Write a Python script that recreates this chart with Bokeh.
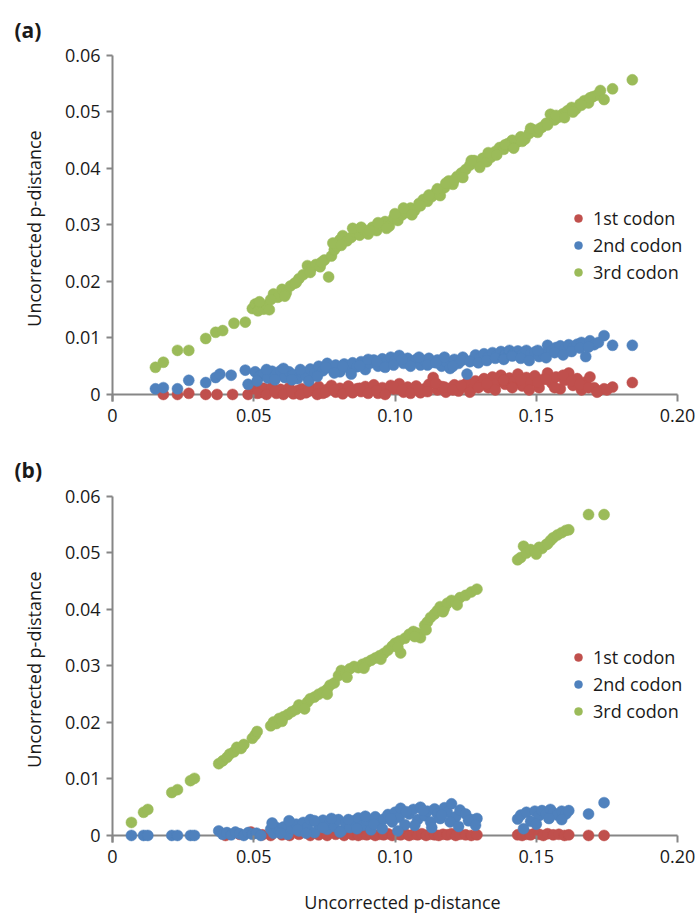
from bokeh.plotting import figure
from bokeh.models import FixedTicker, Legend, LegendItem
from bokeh.layouts import column
from bokeh.embed import file_html
from bokeh.resources import INLINE

FONT = "Open Sans"
RED, BLUE, GREEN = "#C0504D", "#4F81BD", "#9BBB59"
AXC = "#868686"
TXT = "#1a1a1a"

series_names = ["1st codon", "2nd codon", "3rd codon"]
panel_tags = ["(a)", "(b)"]
axis_title = "Uncorrected p-distance"
x_ticks = [0, 0.05, 0.10, 0.15, 0.20]
x_tick_labels = ["0", "0.05", "0.10", "0.15", "0.20"]
y_ticks = [0, 0.01, 0.02, 0.03, 0.04, 0.05, 0.06]
y_tick_labels = ["0", "0.01", "0.02", "0.03", "0.04", "0.05", "0.06"]

# ---------------- panel (a) ----------------
a_green_x = [0.0152, 0.0180, 0.0230, 0.0270, 0.0330, 0.0365, 0.0390, 0.0430, 0.0470, 0.0495,
             0.0505, 0.0515, 0.0525, 0.0535, 0.0545, 0.0555, 0.0570, 0.0585, 0.0600, 0.0615,
             0.0630, 0.0645, 0.0660, 0.0675, 0.0690, 0.0705, 0.0720, 0.0735, 0.0750, 0.0765,
             0.0775, 0.0785, 0.0795, 0.0805, 0.0815, 0.0830, 0.0845, 0.0860, 0.0875, 0.0890,
             0.0905, 0.0920, 0.0935, 0.0950, 0.0965, 0.0980, 0.0995, 0.1010, 0.1025, 0.1040,
             0.1055, 0.1070, 0.1085, 0.1100, 0.1115, 0.1130, 0.1145, 0.1160, 0.1175, 0.1190,
             0.1205, 0.1220, 0.1235, 0.1250, 0.1265, 0.1280, 0.1295, 0.1310, 0.1325, 0.1340,
             0.1355, 0.1370, 0.1385, 0.1400, 0.1415, 0.1430, 0.1445, 0.1460, 0.1475, 0.1490,
             0.1505, 0.1520, 0.1535, 0.1550, 0.1565, 0.1580, 0.1595, 0.1610, 0.1625, 0.1640,
             0.1655, 0.1670, 0.1685, 0.1700, 0.1715, 0.1727, 0.1740, 0.1770, 0.1840,
             0.0520, 0.0560, 0.0610, 0.0650, 0.0700, 0.0740, 0.0780, 0.0810, 0.0850, 0.0880,
             0.0910, 0.0940, 0.0970, 0.1000, 0.1030, 0.1060, 0.1090, 0.1120, 0.1150, 0.1180,
             0.1210, 0.1240, 0.1270, 0.1300, 0.1330, 0.1360, 0.1390, 0.1420, 0.1450, 0.1480,
             0.1510, 0.1540, 0.1570, 0.1600, 0.1630, 0.1660, 0.1690]
a_green_y = [0.0048, 0.0057, 0.0078, 0.0078, 0.0099, 0.0110, 0.0113, 0.0126, 0.0128, 0.0152,
             0.0160, 0.0148, 0.0157, 0.0151, 0.0158, 0.0150, 0.0178, 0.0172, 0.0186, 0.0180,
             0.0192, 0.0197, 0.0205, 0.0212, 0.0228, 0.0224, 0.0230, 0.0226, 0.0238, 0.0208,
             0.0245, 0.0256, 0.0262, 0.0274, 0.0281, 0.0272, 0.0278, 0.0287, 0.0282, 0.0291,
             0.0284, 0.0296, 0.0290, 0.0300, 0.0306, 0.0298, 0.0312, 0.0308, 0.0318, 0.0322,
             0.0330, 0.0326, 0.0338, 0.0345, 0.0342, 0.0350, 0.0358, 0.0352, 0.0366, 0.0378,
             0.0372, 0.0386, 0.0392, 0.0398, 0.0406, 0.0414, 0.0409, 0.0418, 0.0412, 0.0420,
             0.0430, 0.0437, 0.0434, 0.0444, 0.0450, 0.0446, 0.0456, 0.0452, 0.0462, 0.0468,
             0.0464, 0.0473, 0.0480, 0.0496, 0.0486, 0.0491, 0.0497, 0.0502, 0.0508, 0.0505,
             0.0514, 0.0520, 0.0516, 0.0527, 0.0530, 0.0538, 0.0522, 0.0541, 0.0557,
             0.0164, 0.0168, 0.0174, 0.0198, 0.0216, 0.0234, 0.0268, 0.0264, 0.0294, 0.0296,
             0.0290, 0.0304, 0.0294, 0.0320, 0.0330, 0.0318, 0.0334, 0.0353, 0.0364, 0.0374,
             0.0380, 0.0384, 0.0414, 0.0402, 0.0428, 0.0424, 0.0442, 0.0436, 0.0448, 0.0471,
             0.0470, 0.0477, 0.0494, 0.0490, 0.0500, 0.0512, 0.0525]

a_blue_x = [0.0152, 0.0180, 0.0230, 0.0270, 0.0330, 0.0365, 0.0380, 0.0420, 0.0470, 0.0480,
            0.0505, 0.0520, 0.0535, 0.0550, 0.0565, 0.0580, 0.0595, 0.0610, 0.0625, 0.0640,
            0.0655, 0.0670, 0.0685, 0.0700, 0.0715, 0.0730, 0.0745, 0.0760, 0.0775, 0.0790,
            0.0805, 0.0820, 0.0835, 0.0850, 0.0865, 0.0880, 0.0895, 0.0910, 0.0925, 0.0940,
            0.0955, 0.0970, 0.0985, 0.1000, 0.1015, 0.1030, 0.1045, 0.1060, 0.1075, 0.1090,
            0.1105, 0.1120, 0.1135, 0.1150, 0.1165, 0.1180, 0.1195, 0.1210, 0.1225, 0.1240,
            0.1255, 0.1270, 0.1285, 0.1300, 0.1315, 0.1330, 0.1345, 0.1360, 0.1375, 0.1390,
            0.1405, 0.1420, 0.1435, 0.1450, 0.1465, 0.1480, 0.1495, 0.1510, 0.1525, 0.1540,
            0.1555, 0.1570, 0.1585, 0.1600, 0.1615, 0.1630, 0.1645, 0.1660, 0.1675, 0.1690,
            0.1705, 0.1720, 0.1740, 0.1770, 0.1840,
            0.0512, 0.0545, 0.0575, 0.0605, 0.0635, 0.0665, 0.0695, 0.0725, 0.0755, 0.0785,
            0.0815, 0.0845, 0.0875, 0.0905, 0.0935, 0.0965, 0.0995, 0.1025, 0.1055, 0.1085,
            0.1115, 0.1145, 0.1175, 0.1205, 0.1235, 0.1265, 0.1295, 0.1325, 0.1355, 0.1385,
            0.1415, 0.1445, 0.1475, 0.1505, 0.1535, 0.1565, 0.1595, 0.1625, 0.1655, 0.1685]
a_blue_y = [0.0010, 0.0012, 0.0010, 0.0025, 0.0021, 0.0030, 0.0036, 0.0034, 0.0043, 0.0018,
            0.0040, 0.0032, 0.0037, 0.0029, 0.0041, 0.0036, 0.0042, 0.0030, 0.0040, 0.0035,
            0.0028, 0.0039, 0.0033, 0.0045, 0.0038, 0.0050, 0.0042, 0.0055, 0.0046, 0.0052,
            0.0040, 0.0054, 0.0047, 0.0056, 0.0049, 0.0058, 0.0044, 0.0055, 0.0061, 0.0050,
            0.0063, 0.0057, 0.0066, 0.0060, 0.0069, 0.0055, 0.0064, 0.0058, 0.0062, 0.0052,
            0.0060, 0.0064, 0.0057, 0.0061, 0.0050, 0.0058, 0.0046, 0.0062, 0.0055, 0.0066,
            0.0036, 0.0060, 0.0070, 0.0064, 0.0072, 0.0067, 0.0074, 0.0069, 0.0076, 0.0071,
            0.0078, 0.0073, 0.0077, 0.0070, 0.0078, 0.0072, 0.0075, 0.0067, 0.0072, 0.0087,
            0.0078, 0.0083, 0.0086, 0.0080, 0.0088, 0.0083, 0.0089, 0.0092, 0.0067, 0.0095,
            0.0088, 0.0092, 0.0104, 0.0087, 0.0087,
            0.0024, 0.0044, 0.0026, 0.0046, 0.0026, 0.0044, 0.0024, 0.0032, 0.0048, 0.0038,
            0.0050, 0.0036, 0.0051, 0.0062, 0.0058, 0.0048, 0.0052, 0.0062, 0.0050, 0.0066,
            0.0052, 0.0056, 0.0066, 0.0050, 0.0060, 0.0058, 0.0056, 0.0060, 0.0064, 0.0062,
            0.0068, 0.0064, 0.0060, 0.0078, 0.0065, 0.0074, 0.0070, 0.0076, 0.0082, 0.0084]

a_red_x = [0.0180, 0.0230, 0.0270, 0.0330, 0.0370, 0.0425, 0.0480, 0.0505, 0.0520, 0.0535,
           0.0550, 0.0565, 0.0580, 0.0595, 0.0610, 0.0625, 0.0640, 0.0655, 0.0670, 0.0685,
           0.0700, 0.0715, 0.0730, 0.0745, 0.0760, 0.0775, 0.0790, 0.0805, 0.0820, 0.0835,
           0.0850, 0.0865, 0.0880, 0.0895, 0.0910, 0.0925, 0.0940, 0.0955, 0.0970, 0.0985,
           0.1000, 0.1015, 0.1030, 0.1045, 0.1060, 0.1075, 0.1090, 0.1105, 0.1120, 0.1135,
           0.1150, 0.1165, 0.1180, 0.1195, 0.1210, 0.1225, 0.1240, 0.1255, 0.1270, 0.1285,
           0.1300, 0.1315, 0.1330, 0.1345, 0.1360, 0.1375, 0.1390, 0.1405, 0.1420, 0.1435,
           0.1450, 0.1465, 0.1480, 0.1495, 0.1510, 0.1525, 0.1540, 0.1555, 0.1570, 0.1585,
           0.1600, 0.1615, 0.1630, 0.1645, 0.1660, 0.1675, 0.1690, 0.1705, 0.1720, 0.1740,
           0.1770, 0.1840,
           0.0512, 0.0545, 0.0575, 0.0605, 0.0635, 0.0665, 0.0695, 0.0725, 0.0755, 0.0785,
           0.0815, 0.0845, 0.0875, 0.0905, 0.0935, 0.0965, 0.0995, 0.1025, 0.1055, 0.1085,
           0.1115, 0.1145, 0.1175, 0.1205, 0.1235, 0.1265, 0.1295, 0.1325, 0.1355, 0.1385,
           0.1415, 0.1445, 0.1475, 0.1505, 0.1535, 0.1565, 0.1595, 0.1625, 0.1655, 0.1685,
           0.1715, 0.1750]
a_red_y = [0.0000, 0.0000, 0.0002, 0.0000, 0.0000, 0.0000, 0.0000, 0.0008, 0.0003, 0.0011,
           0.0005, 0.0013, 0.0002, 0.0009, 0.0004, 0.0012, 0.0001, 0.0007, 0.0010, 0.0003,
           0.0012, 0.0006, 0.0014, 0.0002, 0.0009, 0.0016, 0.0004, 0.0011, 0.0007, 0.0015,
           0.0003, 0.0010, 0.0005, 0.0014, 0.0008, 0.0017, 0.0002, 0.0012, 0.0006, 0.0016,
           0.0009, 0.0019, 0.0004, 0.0013, 0.0007, 0.0015, 0.0003, 0.0010, 0.0018, 0.0030,
           0.0008, 0.0014, 0.0004, 0.0011, 0.0017, 0.0006, 0.0013, 0.0021, 0.0009, 0.0024,
           0.0016, 0.0028, 0.0012, 0.0031, 0.0020, 0.0034, 0.0018, 0.0029, 0.0024, 0.0036,
           0.0015, 0.0030, 0.0022, 0.0033, 0.0012, 0.0027, 0.0038, 0.0020, 0.0031, 0.0010,
           0.0025, 0.0038, 0.0016, 0.0028, 0.0008, 0.0022, 0.0031, 0.0012, 0.0006, 0.0010,
           0.0013, 0.0021,
           0.0002, 0.0000, 0.0006, 0.0000, 0.0005, 0.0000, 0.0006, 0.0000, 0.0004, 0.0008,
           0.0001, 0.0006, 0.0011, 0.0002, 0.0007, 0.0000, 0.0013, 0.0008, 0.0002, 0.0009,
           0.0005, 0.0020, 0.0013, 0.0008, 0.0016, 0.0004, 0.0012, 0.0019, 0.0008, 0.0025,
           0.0012, 0.0026, 0.0008, 0.0021, 0.0027, 0.0012, 0.0034, 0.0024, 0.0018, 0.0012,
           0.0004, 0.0008]

# ---------------- panel (b) ----------------
b_green_x = [0.0067, 0.0110, 0.0125, 0.0210, 0.0230, 0.0276, 0.0290, 0.0376, 0.0390, 0.0405,
             0.0415, 0.0430, 0.0440, 0.0455, 0.0465, 0.0495, 0.0505, 0.0512, 0.0560, 0.0570,
             0.0580, 0.0590, 0.0605, 0.0620, 0.0635, 0.0650, 0.0660, 0.0675, 0.0690, 0.0700,
             0.0715, 0.0730, 0.0745, 0.0760, 0.0770, 0.0785, 0.0800, 0.0810, 0.0825, 0.0840,
             0.0855, 0.0870, 0.0885, 0.0900, 0.0915, 0.0930, 0.0945, 0.0960, 0.0975, 0.0990,
             0.1000, 0.1015, 0.1020, 0.1035, 0.1050, 0.1065, 0.1080, 0.1090, 0.1105, 0.1115,
             0.1126, 0.1140, 0.1150, 0.1160, 0.1175, 0.1185, 0.1200, 0.1215, 0.1230, 0.1250,
             0.1270, 0.1290, 0.1434, 0.1445, 0.1455, 0.1465, 0.1480, 0.1495, 0.1510, 0.1520,
             0.1535, 0.1550, 0.1560, 0.1575, 0.1590, 0.1605, 0.1615, 0.1685, 0.1740,
             0.0600, 0.0680, 0.0760, 0.0830, 0.0890, 0.0950, 0.1010, 0.1070, 0.1110, 0.1170,
             0.1220, 0.1500, 0.1540]
b_green_y = [0.0023, 0.0041, 0.0046, 0.0076, 0.0081, 0.0097, 0.0101, 0.0127, 0.0132, 0.0138,
             0.0144, 0.0148, 0.0156, 0.0154, 0.0161, 0.0172, 0.0178, 0.0184, 0.0194, 0.0201,
             0.0198, 0.0207, 0.0210, 0.0214, 0.0219, 0.0223, 0.0231, 0.0229, 0.0236, 0.0242,
             0.0245, 0.0250, 0.0254, 0.0259, 0.0266, 0.0270, 0.0283, 0.0292, 0.0288, 0.0295,
             0.0299, 0.0297, 0.0303, 0.0306, 0.0310, 0.0314, 0.0318, 0.0322, 0.0328, 0.0335,
             0.0340, 0.0344, 0.0323, 0.0349, 0.0356, 0.0361, 0.0358, 0.0350, 0.0372, 0.0378,
             0.0386, 0.0392, 0.0398, 0.0405, 0.0402, 0.0411, 0.0416, 0.0413, 0.0421, 0.0425,
             0.0431, 0.0436, 0.0488, 0.0492, 0.0512, 0.0500, 0.0506, 0.0503, 0.0510, 0.0508,
             0.0515, 0.0522, 0.0527, 0.0532, 0.0536, 0.0540, 0.0541, 0.0568, 0.0568,
             0.0202, 0.0224, 0.0250, 0.0280, 0.0296, 0.0312, 0.0333, 0.0352, 0.0364, 0.0396,
             0.0408, 0.0498, 0.0516]

b_blue_x = [0.0067, 0.0110, 0.0125, 0.0210, 0.0230, 0.0276, 0.0290, 0.0376, 0.0390, 0.0405,
            0.0420, 0.0435, 0.0450, 0.0465, 0.0480, 0.0495, 0.0510, 0.0525, 0.0560, 0.0570,
            0.0580, 0.0590, 0.0605, 0.0620, 0.0635, 0.0650, 0.0660, 0.0675, 0.0690, 0.0700,
            0.0715, 0.0730, 0.0745, 0.0760, 0.0770, 0.0785, 0.0800, 0.0810, 0.0825, 0.0840,
            0.0855, 0.0870, 0.0885, 0.0900, 0.0915, 0.0930, 0.0945, 0.0960, 0.0975, 0.0990,
            0.1000, 0.1015, 0.1020, 0.1035, 0.1050, 0.1065, 0.1080, 0.1090, 0.1105, 0.1115,
            0.1126, 0.1140, 0.1150, 0.1160, 0.1175, 0.1185, 0.1200, 0.1215, 0.1230, 0.1250,
            0.1270, 0.1290, 0.1434, 0.1445, 0.1455, 0.1465, 0.1480, 0.1495, 0.1510, 0.1520,
            0.1535, 0.1550, 0.1560, 0.1575, 0.1590, 0.1605, 0.1615, 0.1685, 0.1740,
            0.0565, 0.0595, 0.0625, 0.0655, 0.0685, 0.0715, 0.0745, 0.0775, 0.0805, 0.0835,
            0.0865, 0.0895, 0.0925, 0.0955, 0.0985, 0.1010, 0.1040, 0.1070, 0.1100, 0.1130,
            0.1165, 0.1195, 0.1225, 0.1260, 0.1285, 0.1500, 0.1545, 0.1590]
b_blue_y = [0.0000, 0.0000, 0.0000, 0.0000, 0.0000, 0.0000, 0.0000, 0.0008, 0.0002, 0.0005,
            0.0001, 0.0006, 0.0003, 0.0000, 0.0005, 0.0002, 0.0004, 0.0000, 0.0011, 0.0004,
            0.0014, 0.0007, 0.0015, 0.0002, 0.0012, 0.0020, 0.0008, 0.0023, 0.0015, 0.0028,
            0.0005, 0.0019, 0.0027, 0.0011, 0.0024, 0.0016, 0.0028, 0.0008, 0.0022, 0.0014,
            0.0026, 0.0031, 0.0018, 0.0027, 0.0010, 0.0033, 0.0021, 0.0029, 0.0037, 0.0024,
            0.0041, 0.0032, 0.0048, 0.0019, 0.0038, 0.0046, 0.0028, 0.0050, 0.0035, 0.0043,
            0.0024, 0.0047, 0.0038, 0.0030, 0.0049, 0.0041, 0.0056, 0.0033, 0.0045, 0.0038,
            0.0028, 0.0030, 0.0029, 0.0036, 0.0012, 0.0041, 0.0025, 0.0043, 0.0035, 0.0044,
            0.0038, 0.0046, 0.0040, 0.0036, 0.0043, 0.0038, 0.0044, 0.0038, 0.0058,
            0.0022, 0.0004, 0.0026, 0.0010, 0.0004, 0.0026, 0.0014, 0.0030, 0.0006, 0.0028,
            0.0012, 0.0034, 0.0020, 0.0012, 0.0030, 0.0008, 0.0042, 0.0018, 0.0044, 0.0014,
            0.0036, 0.0024, 0.0016, 0.0026, 0.0018, 0.0020, 0.0030, 0.0028]

b_red_x = [0.0400, 0.0450, 0.0490, 0.0530, 0.0560, 0.0600, 0.0627, 0.0660, 0.0700, 0.0730,
           0.0760, 0.0790, 0.0820, 0.0850, 0.0870, 0.0885, 0.0900, 0.0915, 0.0930, 0.0945,
           0.0960, 0.0975, 0.0990, 0.1005, 0.1020, 0.1035, 0.1050, 0.1065, 0.1080, 0.1095,
           0.1110, 0.1125, 0.1140, 0.1155, 0.1170, 0.1185, 0.1200, 0.1215, 0.1230, 0.1250,
           0.1270, 0.1290, 0.1434, 0.1450, 0.1465, 0.1480, 0.1495, 0.1510, 0.1525, 0.1540,
           0.1560, 0.1580, 0.1600, 0.1615, 0.1685, 0.1740]
b_red_y = [0.0000, 0.0002, 0.0006, 0.0001, 0.0000, 0.0001, 0.0000, 0.0002, 0.0000, 0.0001,
           0.0000, 0.0002, 0.0000, 0.0001, 0.0000, 0.0002, 0.0001, 0.0003, 0.0000, 0.0002,
           0.0001, 0.0003, 0.0000, 0.0002, 0.0001, 0.0003, 0.0000, 0.0002, 0.0001, 0.0003,
           0.0000, 0.0002, 0.0001, 0.0000, 0.0002, 0.0001, 0.0003, 0.0000, 0.0002, 0.0001,
           0.0000, 0.0001, 0.0001, 0.0000, 0.0002, 0.0001, 0.0004, 0.0002, 0.0000, 0.0003,
           0.0001, 0.0002, 0.0000, 0.0001, 0.0000, 0.0000]

X_END = 0.2053   # frame runs a little past the last tick so the legend is not clipped


def make_panel(tag, series, height, border_top, border_bottom, legend_y, title_standoff, xlabel):
    p = figure(width=699, height=height, x_range=(0, X_END), y_range=(-0.00125, 0.06),
               output_backend="svg", toolbar_location=None,
               min_border_left=112, min_border_right=7,
               min_border_top=border_top, min_border_bottom=border_bottom)
    p.outline_line_color = None
    p.grid.visible = False
    p.background_fill_color = "white"
    p.border_fill_color = "white"

    # horizontal axis line at y = 0, from the first to the last tick
    axis_line = p.segment(x0=[x_ticks[0]], y0=[0], x1=[x_ticks[-1]], y1=[0],
                          line_color=AXC, line_width=2)
    axis_line.level = "underlay"

    renderers = []
    for (xs, ys), col in zip(series, [RED, BLUE, GREEN]):
        r = p.scatter(xs, ys, size=11, fill_color=col, line_color=col, line_width=0.5)
        renderers.append(r)

    xa = p.xaxis[0]
    xa.ticker = FixedTicker(ticks=x_ticks)
    xa.major_label_overrides = dict(zip(x_ticks, x_tick_labels))
    xa.axis_line_color = None
    xa.major_tick_line_color = AXC
    xa.major_tick_line_width = 2
    xa.major_tick_in = 7
    xa.major_tick_out = 0
    xa.minor_tick_line_color = None
    xa.major_label_standoff = 7
    xa.major_label_text_font = FONT
    xa.major_label_text_font_size = "18px"
    xa.major_label_text_color = TXT
    if xlabel:
        xa.axis_label = axis_title
        xa.axis_label_text_font = FONT
        xa.axis_label_text_font_size = "18px"
        xa.axis_label_text_font_style = "normal"
        xa.axis_label_text_color = TXT
        xa.axis_label_standoff = 24

    ya = p.yaxis[0]
    ya.ticker = FixedTicker(ticks=y_ticks)
    ya.major_label_overrides = dict(zip(y_ticks, y_tick_labels))
    ya.axis_line_color = AXC
    ya.axis_line_width = 2
    ya.major_tick_line_color = AXC
    ya.major_tick_line_width = 2
    ya.major_tick_in = 0
    ya.major_tick_out = 6
    ya.minor_tick_line_color = None
    ya.major_label_standoff = 6
    ya.major_label_text_font = FONT
    ya.major_label_text_font_size = "18px"
    ya.major_label_text_color = TXT
    ya.axis_label = axis_title
    ya.axis_label_text_font = FONT
    ya.axis_label_text_font_size = "18px"
    ya.axis_label_text_font_style = "normal"
    ya.axis_label_text_color = TXT
    ya.axis_label_standoff = 16

    p.title.text = tag
    p.title.align = "left"
    p.title.vertical_align = "top"
    p.title.offset = -98
    p.title.standoff = title_standoff
    p.title.text_font = FONT
    p.title.text_font_size = "21px"
    p.title.text_font_style = "bold"
    p.title.text_color = TXT

    legend = Legend(items=[LegendItem(label=n, renderers=[r]) for n, r in zip(series_names, renderers)],
                    location=(456, legend_y), orientation="vertical")
    legend.background_fill_alpha = 0
    legend.border_line_color = None
    legend.padding = 0
    legend.margin = 0
    legend.spacing = 3
    legend.glyph_width = 20
    legend.glyph_height = 20
    legend.label_height = 20
    legend.label_standoff = 5
    legend.label_text_font = FONT
    legend.label_text_font_size = "18px"
    legend.label_text_color = TXT
    p.add_layout(legend)
    return p


p1 = make_panel(panel_tags[0],
                [(a_red_x, a_red_y), (a_blue_x, a_blue_y), (a_green_x, a_green_y)],
                440, 55, 39, 117, 20, False)
p2 = make_panel(panel_tags[1],
                [(b_red_x, b_red_y), (b_blue_x, b_blue_y), (b_green_x, b_green_y)],
                477, 56, 75, 119, 22, True)

layout = column(p1, p2, spacing=0)
open("out.html", "w").write(file_html(layout, INLINE))
